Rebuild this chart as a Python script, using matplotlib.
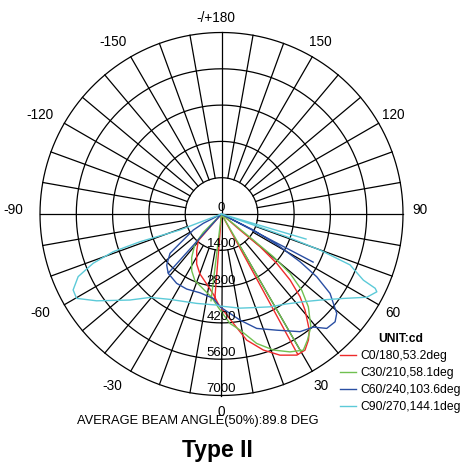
import numpy as np
import matplotlib
matplotlib.use('Agg')
import matplotlib.pyplot as plt

plt.rcParams['font.family'] = ['Liberation Sans', 'DejaVu Sans']

# ring values (cd) and angle labels
rings = [1400, 2800, 4200, 5600, 7000]
ring_labels = ['0', '1400', '2800', '4200', '5600', '7000']
angle_ticks = [180, 150, 120, 90, 60, 30, 0, -30, -60, -90, -120, -150]
angle_labels = ['-/+180', '150', '120', '90', '60', '30', '0',
                '-30', '-60', '-90', '-120', '-150']

# curves: gamma angle (deg, 0 = down, + = right) and intensity (cd), in drawing order
c0_deg = [-4.5, -4.5, -42, -41.3, -41, -34, -26.4, -19.7, -11.9, -5.9, -2, 6.2,
          11.3, 17.1, 22.5, 28.1, 31.5, 34.6, 37.1, 41, 43.5, 46.1, 48.2, 49.7,
          49.1, 48, 28.5]
c0_cd = [3300, 0, 0, 772, 1365, 1710, 2155, 2460, 2762, 3105, 3477, 4245,
         4960, 5490, 5893, 6170, 6160, 5906, 5616, 4910, 4400, 3672, 2857, 1950,
         945, 0, 6150]

c30_deg = [-6.9, -6.9, -45, -44.8, -41.5, -34.5, -27.7, -21.7, -13.6, -6.7, -2,
           4.4, 9.1, 15.2, 20.9, 26.4, 31, 34.3, 38.4, 43.1, 46.5, 49.1, 50.5,
           50.7, 50, 30]
c30_cd = [3370, 0, 0, 996, 1545, 2030, 2472, 2770, 2980, 3238, 3604,
          4232, 4535, 5173, 5617, 5937, 6126, 5884, 5548, 4902, 4265, 3497, 2590,
          1584, 0, 6100]

c60_deg = [-42, -43, -64, -62.9, -60.4, -54.8, -52.6, -47, -41.9, -32.9, -24.9,
           -15.3, -5.6, -0.9, 9.9, 17.1, 25.4, 33.7, 39.1, 42.6, 46.5, 49.2, 53.8,
           56.6, 58.7, 60.8, 63.3, 65, 73, 62.3]
c60_cd = [3050, 0, 0, 789, 1252, 1961, 2500, 2890, 3076, 3185, 3191,
          3150, 3270, 3580, 4154, 4617, 4960, 5455, 5620, 5995, 6040, 5870, 5188,
          4400, 3546, 2587, 1374, 0, 0, 3990]

c90_deg = [73.5, 74.5, 71.5, 71, 70.8, 69.9, 68.4, 65, 64.2, 63.4, 60.2, 55.3,
           48.9, 42.9, 35.6, 27.6, 19.7, 11.1, -0.9, -3, -15.5, -31.1, -40.6,
           -46.8, -55.2, -59.8, -62.9, -66.4, -69, -70.8, -71.2, -69, -70]
c90_cd = [3400, 0, 0, 1300, 2665, 4050, 5330, 6037, 6583, 6700, 6460, 5720,
          5050, 4620, 4270, 4040, 3833, 3700, 3550, 3517, 3578, 3846, 4238,
          4847, 5866, 6468, 6428, 6033, 5300, 4423, 3320, 1717, 0]

series = [
    ('C0/180,53.2deg', c0_deg, c0_cd, '#ee2b2b'),
    ('C30/210,58.1deg', c30_deg, c30_cd, '#70c050'),
    ('C60/240,103.6deg', c60_deg, c60_cd, '#2a4fa3'),
    ('C90/270,144.1deg', c90_deg, c90_cd, '#5ccad8'),
]

fig = plt.figure(figsize=(4.64, 4.62), dpi=100)
ax = fig.add_axes([40 / 464, 66.5 / 462, 363 / 464, 363 / 462], projection='polar')
ax.set_theta_zero_location('S')
ax.set_theta_direction(1)
ax.set_ylim(0, 7000)
ax.axis('off')

# grid
full = np.linspace(0, 2 * np.pi, 721)
for r in rings:
    ax.plot(full, np.full_like(full, r), color='black', lw=0.9, clip_on=False, zorder=1)
for a in range(0, 360, 10):
    t = np.radians(a)
    r0 = 0 if a % 90 == 0 else rings[0]
    ax.plot([t, t], [r0, rings[-1]], color='black', lw=0.9, clip_on=False, zorder=1)

# ring labels along the downward axis
for i, lab in enumerate(ring_labels):
    ax.text(0, i * 1400, lab, ha='center', va='bottom', fontsize=9.5, zorder=3)

# angle labels, the negative ones sit a bit further out
for a, lab in zip(angle_ticks, angle_labels):
    dx, dy = 0, 0
    if lab == '-/+180':
        dx, dy = -4, -2
    elif lab.startswith('-'):
        dx = -7
    if abs(a) == 90:
        dy = 3
    ax.annotate(lab, (np.radians(a), 7650), xytext=(dx, dy), textcoords='offset points',
                ha='center', va='center', fontsize=9.8, annotation_clip=False)

for name, deg, cd, col in series:
    ax.plot(np.radians(deg), cd, color=col, lw=1.0, label=name, zorder=2, clip_on=False)

leg = fig.legend(loc='upper left', bbox_to_anchor=(340 / 464, 1 - 333 / 462),
                 frameon=False, fontsize=8.7, handlelength=1.35, handletextpad=0.35,
                 labelspacing=0.42, borderpad=0, borderaxespad=0,
                 title='UNIT:cd', title_fontproperties={'weight': 'bold', 'size': 8.7})

fig.text(197.5 / 464, 1 - 421 / 462, 'AVERAGE BEAM ANGLE(50%):89.8 DEG',
         ha='center', va='center', fontsize=9.3)
fig.text(217 / 464, 1 - 450 / 462, 'Type II', ha='center', va='center',
         fontsize=16.5, fontweight='bold')

fig.savefig('out.png', dpi=100)
